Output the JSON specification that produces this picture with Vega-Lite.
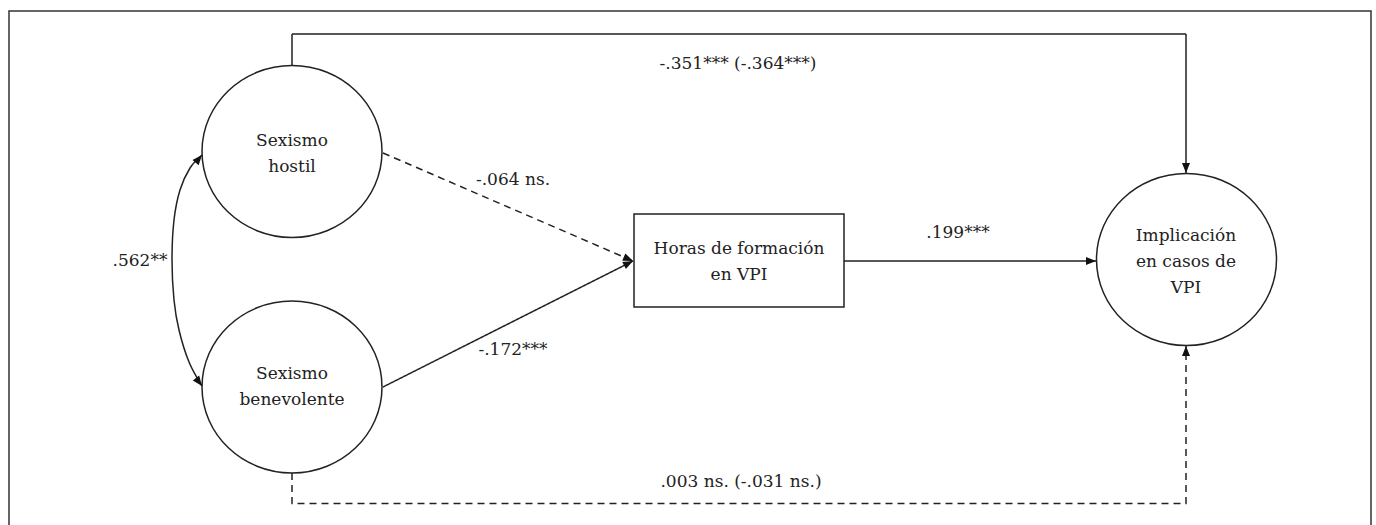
{
  "$schema": "https://vega.github.io/schema/vega-lite/v6.json",
  "width": 1376,
  "height": 525,
  "padding": 0,
  "autosize": {"type": "none"},
  "background": "white",
  "config": {"view": {"stroke": null}},
  "datasets": {
    "frame": [{"x": 9, "x2": 1371, "y": 11, "y2": 560}],
    "box": [{"x": 634, "x2": 844, "y": 214, "y2": 307}],
    "nodes": [
      {"id": "hostil", "x": 292, "y": 151.5},
      {"id": "benevolente", "x": 292, "y": 387},
      {"id": "implicacion", "x": 1186.5, "y": 259.5}
    ],
    "paths": [
      {"path": "hs_impl", "style": "solid", "order": 1, "x": 292, "y": 66},
      {"path": "hs_impl", "style": "solid", "order": 2, "x": 292, "y": 34},
      {"path": "hs_impl", "style": "solid", "order": 3, "x": 1186, "y": 34},
      {"path": "hs_impl", "style": "solid", "order": 4, "x": 1186, "y": 173},
      {"path": "bn_impl", "style": "dashed", "order": 1, "x": 292, "y": 473},
      {"path": "bn_impl", "style": "dashed", "order": 2, "x": 292, "y": 503.5},
      {"path": "bn_impl", "style": "dashed", "order": 3, "x": 1186, "y": 503.5},
      {"path": "bn_impl", "style": "dashed", "order": 4, "x": 1186, "y": 346},
      {"path": "hs_box", "style": "dashed", "order": 1, "x": 383, "y": 153},
      {"path": "hs_box", "style": "dashed", "order": 2, "x": 633, "y": 261},
      {"path": "bn_box", "style": "solid", "order": 1, "x": 383, "y": 387},
      {"path": "bn_box", "style": "solid", "order": 2, "x": 633, "y": 261},
      {"path": "box_impl", "style": "solid", "order": 1, "x": 844, "y": 261},
      {"path": "box_impl", "style": "solid", "order": 2, "x": 1096, "y": 261}
    ],
    "curve": [
      {"order": 1, "x": 202, "y": 155},
      {"order": 2, "x": 190, "y": 168},
      {"order": 3, "x": 180, "y": 190},
      {"order": 4, "x": 174, "y": 220},
      {"order": 5, "x": 172, "y": 260},
      {"order": 6, "x": 174, "y": 300},
      {"order": 7, "x": 179, "y": 330},
      {"order": 8, "x": 189, "y": 362},
      {"order": 9, "x": 202, "y": 386}
    ],
    "arrows": [
      {"x": 1186, "y": 173, "angle": 180},
      {"x": 1186, "y": 346, "angle": 0},
      {"x": 1096, "y": 261, "angle": 90},
      {"x": 633, "y": 261, "angle": 113},
      {"x": 633, "y": 261, "angle": 63},
      {"x": 202, "y": 155, "angle": 40},
      {"x": 202, "y": 386, "angle": 143}
    ],
    "labels": [
      {"text": "-.351*** (-.364***)", "x": 738, "y": 64},
      {"text": "-.064 ns.", "x": 513, "y": 180},
      {"text": "-.172***", "x": 513, "y": 350},
      {"text": ".199***", "x": 958, "y": 233},
      {"text": ".562**", "x": 140, "y": 261},
      {"text": ".003 ns. (-.031 ns.)", "x": 741, "y": 482},
      {"text": "Sexismo\nhostil", "x": 292, "y": 141},
      {"text": "Sexismo\nbenevolente", "x": 292, "y": 374},
      {"text": "Horas de formación\nen VPI", "x": 739, "y": 249},
      {"text": "Implicación\nen casos de\nVPI", "x": 1186, "y": 236}
    ]
  },
  "layer": [
    {
      "data": {"name": "frame"},
      "mark": {"type": "rect", "fill": null, "stroke": "#333", "strokeWidth": 1.5, "clip": true},
      "encoding": {
        "x": {"field": "x", "type": "quantitative", "scale": {"domain": [0, 1376], "nice": false, "zero": false}, "axis": null},
        "x2": {"field": "x2"},
        "y": {"field": "y", "type": "quantitative", "scale": {"domain": [0, 525], "nice": false, "zero": false, "reverse": true}, "axis": null},
        "y2": {"field": "y2"}
      }
    },
    {
      "data": {"name": "box"},
      "mark": {"type": "rect", "fill": "white", "stroke": "#222", "strokeWidth": 1.5},
      "encoding": {
        "x": {"field": "x", "type": "quantitative"},
        "x2": {"field": "x2"},
        "y": {"field": "y", "type": "quantitative"},
        "y2": {"field": "y2"}
      }
    },
    {
      "data": {"name": "nodes"},
      "mark": {"type": "point", "shape": "M -1 0 A 1 0.955 0 1 0 1 0 A 1 0.955 0 1 0 -1 0 Z", "size": 32400, "filled": false, "fill": "white", "fillOpacity": 1, "stroke": "#222", "strokeWidth": 1.5, "opacity": 1},
      "encoding": {
        "x": {"field": "x", "type": "quantitative"},
        "y": {"field": "y", "type": "quantitative"}
      }
    },
    {
      "data": {"name": "paths"},
      "mark": {"type": "line", "stroke": "#222", "strokeWidth": 1.5},
      "encoding": {
        "x": {"field": "x", "type": "quantitative"},
        "y": {"field": "y", "type": "quantitative"},
        "detail": {"field": "path"},
        "order": {"field": "order", "type": "quantitative"},
        "strokeDash": {"field": "style", "type": "nominal", "scale": {"domain": ["solid", "dashed"], "range": [[1, 0], [7, 5]]}, "legend": null}
      }
    },
    {
      "data": {"name": "curve"},
      "mark": {"type": "line", "stroke": "#222", "strokeWidth": 1.5, "interpolate": "cardinal"},
      "encoding": {
        "x": {"field": "x", "type": "quantitative"},
        "y": {"field": "y", "type": "quantitative"},
        "order": {"field": "order", "type": "quantitative"}
      }
    },
    {
      "data": {"name": "arrows"},
      "mark": {"type": "point", "shape": "M 0 0 L 0.8 2 L -0.8 2 Z", "size": 100, "filled": true, "fill": "#111", "opacity": 1, "strokeWidth": 0},
      "encoding": {
        "x": {"field": "x", "type": "quantitative"},
        "y": {"field": "y", "type": "quantitative"},
        "angle": {"field": "angle", "type": "quantitative", "scale": null}
      }
    },
    {
      "data": {"name": "labels"},
      "mark": {"type": "text", "font": "DejaVu Serif", "fontSize": 17, "color": "#222", "align": "center", "baseline": "middle", "lineBreak": "\n", "lineHeight": 26},
      "encoding": {
        "x": {"field": "x", "type": "quantitative"},
        "y": {"field": "y", "type": "quantitative"},
        "text": {"field": "text", "type": "nominal"}
      }
    }
  ]
}
